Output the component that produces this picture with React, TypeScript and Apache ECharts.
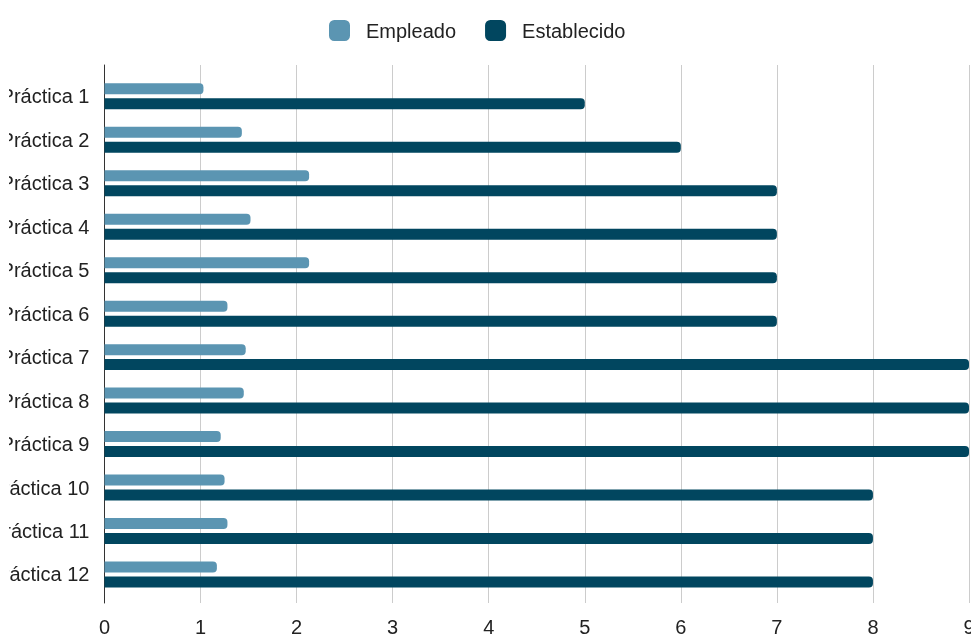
import React, { useEffect, useRef } from "react";
import * as echarts from "echarts";

const categories = [
  "Práctica 1",
  "Práctica 2",
  "Práctica 3",
  "Práctica 4",
  "Práctica 5",
  "Práctica 6",
  "Práctica 7",
  "Práctica 8",
  "Práctica 9",
  "Práctica 10",
  "Práctica 11",
  "Práctica 12",
];
const empleado = [1.03, 1.43, 2.13, 1.52, 2.13, 1.28, 1.47, 1.45, 1.21, 1.25, 1.28, 1.17];
const establecido = [5, 6, 7, 7, 7, 7, 9, 9, 9, 8, 8, 8];
const seriesNames = ["Empleado", "Establecido"];
const xMin = 0;
const xMax = 9;
const xInterval = 1;

const FONT = "'Liberation Sans', Arial, sans-serif";

export default function App() {
  const ref = useRef<HTMLDivElement>(null);
  useEffect(() => {
    if (!ref.current) return;
    document.documentElement.style.overflow = "hidden";
    document.body.style.overflow = "hidden";
    const chart = echarts.init(ref.current, null, { renderer: "svg", width: 971, height: 637 });
    chart.setOption({
      animation: false,
      textStyle: { fontFamily: FONT },
      legend: {
        left: 324,
        top: 15,
        itemWidth: 21,
        itemHeight: 21,
        itemGap: 29,
        icon: "roundRect",
        textStyle: { fontSize: 20, color: "#222", fontFamily: FONT, padding: [0, 0, 0, 11] },
        data: seriesNames,
      },
      grid: [
        { left: 104.5, right: 2, top: 65, height: 538, containLabel: false, outerBoundsMode: "none" },
        { left: 104.5, right: 2, top: 74.6, height: 521.6, containLabel: false, outerBoundsMode: "none" },
      ],
      xAxis: [
        {
          gridIndex: 0,
          type: "value",
          min: xMin,
          max: xMax,
          interval: xInterval,
          axisLine: { show: false },
          axisTick: { show: false },
          axisLabel: { fontSize: 20, color: "#222", margin: 14, fontFamily: FONT },
          splitLine: { show: true, lineStyle: { color: "#cccccc", width: 1 } },
        },
        {
          gridIndex: 1,
          type: "value",
          min: xMin,
          max: xMax,
          interval: xInterval,
          show: false,
          splitLine: { show: false },
        },
      ],
      yAxis: [
        {
          gridIndex: 0,
          type: "value",
          min: 0,
          max: 1,
          axisLine: { show: true, onZero: false, lineStyle: { color: "#333", width: 1 } },
          axisTick: { show: false },
          axisLabel: { show: false },
          splitLine: { show: false },
        },
        {
          gridIndex: 1,
          type: "category",
          inverse: true,
          data: categories,
          axisLine: { show: false },
          axisTick: { show: false },
          axisLabel: { fontSize: 20, color: "#222", margin: 15, fontFamily: FONT },
          splitLine: { show: false },
        },
      ],
      series: [
        {
          name: seriesNames[0],
          type: "bar",
          xAxisIndex: 1,
          yAxisIndex: 1,
          data: empleado,
          barWidth: 11,
          barGap: "36%",
          itemStyle: { color: "#5b95b2", borderRadius: [0, 4, 4, 0] },
        },
        {
          name: seriesNames[1],
          type: "bar",
          xAxisIndex: 1,
          yAxisIndex: 1,
          data: establecido,
          barWidth: 11,
          barGap: "36%",
          itemStyle: { color: "#01465f", borderRadius: [0, 4, 4, 0] },
        },
      ],
    });
    return () => chart.dispose();
  }, []);
  return (
    <div
      style={{
        position: "fixed",
        left: 9,
        top: 0,
        width: 962,
        height: 637,
        overflow: "hidden",
      }}
    >
      <div
        ref={ref}
        style={{ position: "absolute", left: -9, top: 0, width: 971, height: 637 }}
      />
    </div>
  );
}
